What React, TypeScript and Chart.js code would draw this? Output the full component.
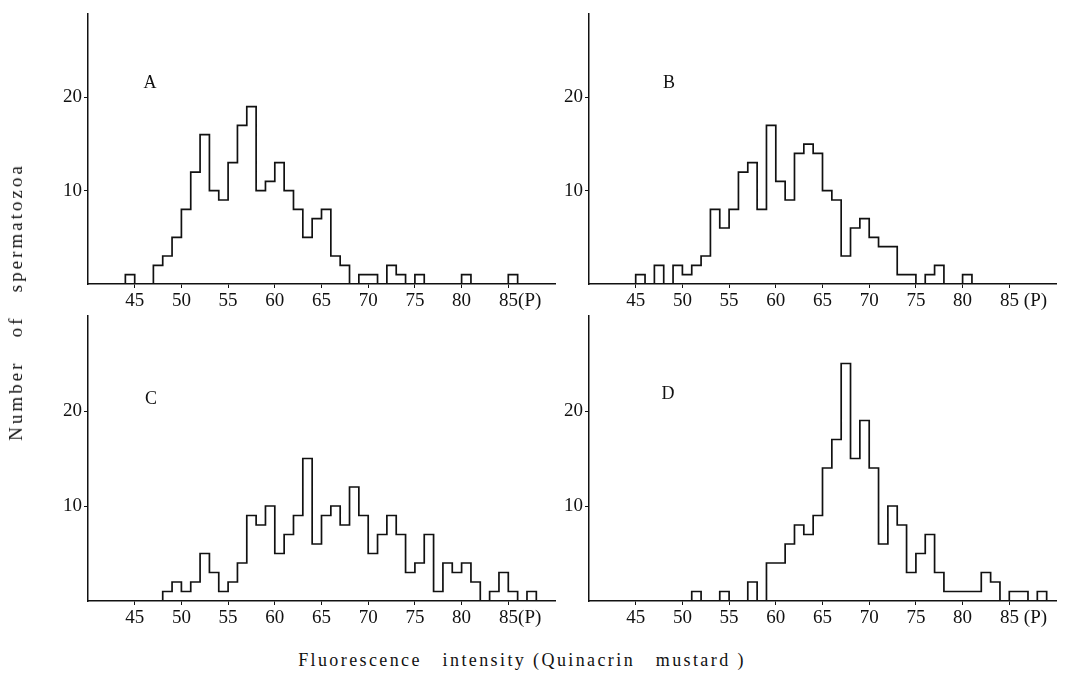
import React, { useEffect, useRef } from "react";
import { Chart, registerables } from "chart.js";

Chart.register(...registerables);

// Histogram bins: each count belongs to the bin [start + i, start + i + 1)
const binStartA = 44;
const countsA = [1, 0, 0, 2, 3, 5, 8, 12, 16, 10, 9, 13, 17, 19, 10, 11, 13, 10, 8, 5, 7, 8, 3, 2, 0, 1, 1, 0, 2, 1, 0, 1, 0, 0, 0, 0, 1, 0, 0, 0, 0, 1];

const binStartB = 45;
const countsB = [1, 0, 2, 0, 2, 1, 2, 3, 8, 6, 8, 12, 13, 8, 17, 11, 9, 14, 15, 14, 10, 9, 3, 6, 7, 5, 4, 4, 1, 1, 0, 1, 2, 0, 0, 1];

const binStartC = 48;
const countsC = [1, 2, 1, 2, 5, 3, 1, 2, 4, 9, 8, 10, 5, 7, 9, 15, 6, 9, 10, 8, 12, 9, 5, 7, 9, 7, 3, 4, 7, 1, 4, 3, 4, 2, 0, 1, 3, 1, 0, 1];

const binStartD = 51;
const countsD = [1, 0, 0, 1, 0, 0, 2, 0, 4, 4, 6, 8, 7, 9, 14, 17, 25, 15, 19, 14, 6, 10, 8, 3, 5, 7, 3, 1, 1, 1, 1, 3, 2, 0, 1, 1, 0, 1];

const xTickValues = [45, 50, 55, 60, 65, 70, 75, 80, 85];
const yTickValues = [10, 20];
const xMin = 40;
const xMax = 90;
const panelLetters = ["A", "B", "C", "D"];

const FONT = "'Liberation Serif', 'DejaVu Serif', serif";

type PanelProps = {
  start: number;
  counts: number[];
  yMax: number;
  left: number;
  top: number;
  width: number;
  height: number;
  axisWidth: number;
  axisHeight: number;
  padTop: number;
  padRight: number;
  lastLabel: string;
};

function Panel(p: PanelProps) {
  const ref = useRef<HTMLCanvasElement | null>(null);
  useEffect(() => {
    if (!ref.current) return;
    // outline of the histogram: each point (edge, count of the bin ending at that edge)
    const pts: { x: number; y: number }[] = [{ x: p.start, y: 0 }];
    p.counts.forEach((c, i) => pts.push({ x: p.start + i + 1, y: c }));
    pts.push({ x: p.start + p.counts.length, y: 0 });
    const chart = new Chart(ref.current, {
      type: "line",
      data: {
        datasets: [
          {
            data: pts,
            stepped: "after",
            borderColor: "#111",
            borderWidth: 1.7,
            pointRadius: 0,
            fill: false,
          },
        ],
      },
      options: {
        responsive: false,
        animation: false,
        devicePixelRatio: 1,
        layout: { padding: { top: p.padTop, right: p.padRight, left: 0, bottom: 0 } },
        plugins: { legend: { display: false }, tooltip: { enabled: false } },
        scales: {
          x: {
            type: "linear",
            min: xMin,
            max: xMax,
            afterBuildTicks: (scale: any) => {
              scale.ticks = xTickValues.map((v) => ({ value: v }));
            },
            afterFit: (scale: any) => {
              scale.height = p.axisHeight;
            },
            border: { display: true, color: "#111", width: 1.5 },
            grid: { display: true, drawOnChartArea: false, drawTicks: true, tickLength: 4, color: "#111" },
            ticks: {
              autoSkip: false,
              maxRotation: 0,
              padding: 2,
              color: "#111",
              font: { family: FONT, size: 19 },
              callback: (v: any) => (v === 85 ? p.lastLabel : String(v)),
            },
          },
          y: {
            type: "linear",
            min: 0,
            max: p.yMax,
            afterBuildTicks: (scale: any) => {
              scale.ticks = yTickValues.map((v) => ({ value: v }));
            },
            afterFit: (scale: any) => {
              scale.width = p.axisWidth;
            },
            border: { display: true, color: "#111", width: 1.5 },
            grid: { display: true, drawOnChartArea: false, drawTicks: true, tickLength: 4, color: "#111" },
            ticks: {
              padding: 2,
              color: "#111",
              font: { family: FONT, size: 19 },
              callback: (v: any) => String(v),
            },
          },
        },
      },
    });
    return () => chart.destroy();
  }, []);
  return (
    <canvas
      ref={ref}
      width={p.width}
      height={p.height}
      style={{ position: "absolute", left: p.left, top: p.top, width: p.width, height: p.height }}
    />
  );
}

const letterStyle = (x: number, y: number): React.CSSProperties => ({
  position: "absolute",
  left: x,
  top: y,
  transform: "translate(-50%, -50%)",
  fontFamily: FONT,
  fontSize: 18,
  color: "#111",
});

export default function App() {
  return (
    <div style={{ position: "fixed", left: 0, top: 0, width: 1066, height: 683, background: "#fff", overflow: "hidden" }}>
      <Panel start={binStartA} counts={countsA} yMax={29} left={20} top={0} width={550} height={320}
        axisWidth={68} axisHeight={36} padTop={10} padRight={15} lastLabel={"     85(P)"} />
      <Panel start={binStartB} counts={countsB} yMax={29} left={521} top={0} width={545} height={320}
        axisWidth={68} axisHeight={36} padTop={10} padRight={10} lastLabel={"      85 (P)"} />
      <Panel start={binStartC} counts={countsC} yMax={30} left={20} top={300} width={550} height={345}
        axisWidth={68} axisHeight={44} padTop={16} padRight={15} lastLabel={"     85(P)"} />
      <Panel start={binStartD} counts={countsD} yMax={30} left={521} top={300} width={545} height={345}
        axisWidth={68} axisHeight={44} padTop={16} padRight={10} lastLabel={"      85 (P)"} />

      <div style={letterStyle(150, 82)}>{panelLetters[0]}</div>
      <div style={letterStyle(669, 82)}>{panelLetters[1]}</div>
      <div style={letterStyle(151, 398)}>{panelLetters[2]}</div>
      <div style={letterStyle(668, 393)}>{panelLetters[3]}</div>

      <div
        style={{
          position: "absolute",
          left: 16,
          top: 302,
          transform: "translate(-50%, -50%) rotate(-90deg)",
          fontFamily: FONT,
          fontSize: 19,
          letterSpacing: "3px",
          whiteSpace: "pre",
          color: "#111",
        }}
      >
        {"Number   of   spermatozoa"}
      </div>
      <div
        style={{
          position: "absolute",
          left: 522,
          top: 660,
          transform: "translate(-50%, -50%)",
          fontFamily: FONT,
          fontSize: 18,
          letterSpacing: "2.4px",
          whiteSpace: "pre",
          color: "#111",
        }}
      >
        {"Fluorescence   intensity (Quinacrin   mustard )"}
      </div>
    </div>
  );
}
